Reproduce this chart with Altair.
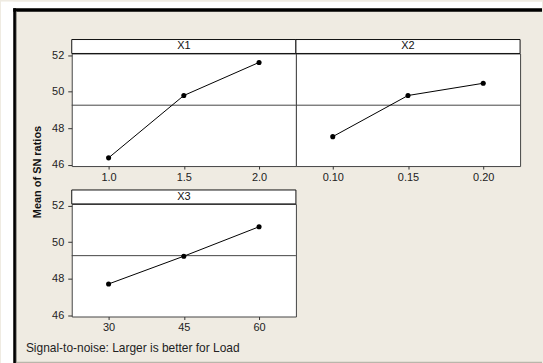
import altair as alt
import pandas as pd

# ---- data ----
factors = ["X1", "X2", "X3"]
levels_x1 = ["1.0", "1.5", "2.0"]
sn_x1 = [46.38, 49.79, 51.60]
levels_x2 = ["0.10", "0.15", "0.20"]
sn_x2 = [47.54, 49.79, 50.46]
levels_x3 = ["30", "45", "60"]
sn_x3 = [47.71, 49.23, 50.84]
y_ticks = [46, 48, 50, 52]
y_title = "Mean of SN ratios"
footer = "Signal-to-noise: Larger is better for Load"

mean_sn = sum(sn_x1 + sn_x2 + sn_x3) / 9.0

FONT = "Liberation Sans"
BEIGE = "#efebe2"
W, H = 225, 113
Y_DOMAIN = [45.93, 52.09]


def panel(name, levels, values, show_y, extra=None):
    df = pd.DataFrame({"level": levels, "sn": values})
    x = alt.X(
        "level:O",
        sort=levels,
        scale=alt.Scale(type="point", padding=0.49),
        axis=alt.Axis(
            title=None, labelAngle=0, tickSize=3, labelPadding=2, domain=False,
            tickColor="#333", labelColor="#222", labelFont=FONT, labelFontSize=11,
        ),
    )
    yscale = alt.Scale(domain=Y_DOMAIN, nice=False, zero=False)
    if show_y:
        yaxis = alt.Axis(
            values=y_ticks, title=None, tickSize=4, labelPadding=4, domain=False,
            grid=False, tickColor="#333", labelColor="#222", labelFont=FONT,
            labelFontSize=11,
        )
    else:
        yaxis = None
    base = alt.Chart(df).encode(x=x, y=alt.Y("sn:Q", scale=yscale, axis=yaxis))
    line = base.mark_line(color="black", strokeWidth=1)
    pts = base.mark_circle(color="black", size=26, opacity=1)
    mean_rule = alt.Chart(pd.DataFrame({"m": [mean_sn]})).mark_rule(
        color="#444", strokeWidth=1
    ).encode(y=alt.Y("m:Q", scale=yscale, axis=yaxis))
    hdr = alt.Chart(pd.DataFrame({"t": [name]}))
    hdr_box = hdr.mark_rect(fill="white", stroke="#111", strokeWidth=1).encode(
        x=alt.value(0), x2=alt.value(W), y=alt.value(-14), y2=alt.value(0)
    )
    hdr_txt = hdr.mark_text(font=FONT, fontSize=11, color="#111", baseline="middle").encode(
        x=alt.value(W / 2), y=alt.value(-7), text="t:N"
    )
    layers = []
    if extra:
        layers += extra
    layers += [mean_rule, line, pts, hdr_box, hdr_txt]
    return alt.layer(*layers).properties(width=W, height=H)


# ---- frame decorations (relative to the first panel's plot origin) ----
deco = alt.Chart(pd.DataFrame({"d": [0]}))


def box(x1, x2, y1, y2, color):
    return deco.mark_rect(fill=color, strokeWidth=0).encode(
        x=alt.value(x1), x2=alt.value(x2), y=alt.value(y1), y2=alt.value(y2)
    )


frame = [
    box(-71, -58.7, -52, 311, "white"),
    box(-71, 472, -52, -45.3, "white"),
    box(-58.7, -56, -45.3, 311, "black"),
    box(-58.7, 472, -45.3, -42, "black"),
    box(-56, -55, -42, 311, "#9a9890"),
    box(-55, 472, 309.3, 311, "#b9b6ab"),
    deco.mark_text(
        text=y_title, font=FONT, fontSize=11, fontWeight="bold", angle=270,
        align="center", baseline="middle", color="#111",
    ).encode(x=alt.value(-34), y=alt.value(119)),
    deco.mark_text(
        text=footer, font=FONT, fontSize=12, align="left", baseline="middle",
        color="#222",
    ).encode(x=alt.value(-46), y=alt.value(296)),
]

p1 = panel(factors[0], levels_x1, sn_x1, True, frame)
p2 = panel(factors[1], levels_x2, sn_x2, False)
p3 = panel(factors[2], levels_x3, sn_x3, True)

chart = (
    alt.concat(p1, p2, p3, columns=2, spacing={"row": 38, "column": 0}, bounds="flush")
    .properties(background=BEIGE, padding=0)
    .configure_view(stroke="#444", strokeWidth=1, fill="white")
)

chart.save("out.html", embed_options={"renderer": "svg", "actions": False})
